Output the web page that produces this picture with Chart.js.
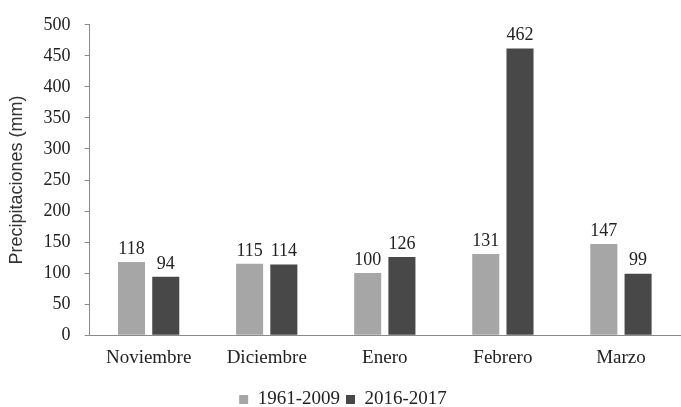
<!DOCTYPE html>
<html>
<head>
<meta charset="utf-8">
<script src="https://cdn.jsdelivr.net/npm/chart.js@4"></script>
<style>
  html, body { margin: 0; padding: 0; background: #fff; }
</style>
</head>
<body>
<canvas id="chart" width="681" height="407"></canvas>
<script>
const months = ["Noviembre", "Diciembre", "Enero", "Febrero", "Marzo"]
const hist = [118, 115, 100, 131, 147]
const recent = [94, 114, 126, 462, 99]
const seriesNames = ["1961-2009", "2016-2017"]

const serif = "'Liberation Serif', serif"
const sans = "'Liberation Sans', sans-serif"

Chart.defaults.font.family = serif
Chart.defaults.font.size = 18
Chart.defaults.color = "#222"

// numbers on top of the bars
const barLabels = {
    id: "barLabels",
    afterDatasetsDraw(chart) {
        const ctx = chart.ctx
        ctx.save()
        ctx.font = "18px " + serif
        ctx.fillStyle = "#222"
        ctx.textAlign = "center"
        ctx.textBaseline = "bottom"
        chart.data.datasets.forEach((ds, i) => {
            chart.getDatasetMeta(i).data.forEach((bar, j) => {
                ctx.fillText(ds.data[j], bar.x, bar.y - 4)
            })
        })
        ctx.restore()
    }
}

// push the legend a bit lower, nearer the bottom edge
const legendDown = {
    id: "legendDown",
    afterLayout(chart) {
        chart.legend.top += 12
        chart.legend.bottom += 12
    }
}

new Chart(document.getElementById("chart"), {
    type: "bar",
    data: {
        labels: months,
        datasets: [{
            label: seriesNames[0],
            data: hist,
            backgroundColor: "#a6a6a6"
        }, {
            label: seriesNames[1],
            data: recent,
            backgroundColor: "#484848"
        }]
    },
    options: {
        responsive: false,
        animation: false,
        categoryPercentage: 0.58,
        barPercentage: 0.79,
        layout: { padding: { top: 17, right: 1, left: 6, bottom: 0 } },
        scales: {
            x: {
                grid: { display: false },
                border: { display: true, color: "#8a8a8a", width: 1 },
                ticks: { padding: 3, font: { size: 19 } }
            },
            y: {
                min: 0,
                max: 500,
                ticks: { stepSize: 50, padding: 14 },
                grid: { drawOnChartArea: false, drawTicks: true, tickLength: 5, color: "#8a8a8a" },
                border: { display: true, color: "#8a8a8a", width: 1 },
                title: {
                    display: true,
                    text: "Precipitaciones (mm)",
                    font: { family: sans, size: 18 },
                    color: "#333",
                    padding: { top: 0, bottom: 2 }
                }
            }
        },
        plugins: {
            legend: {
                position: "bottom",
                labels: { boxWidth: 9, boxHeight: 9, padding: 6, font: { size: 19 } }
            },
            tooltip: { enabled: false }
        }
    },
    plugins: [barLabels, legendDown]
})
</script>
</body>
</html>
